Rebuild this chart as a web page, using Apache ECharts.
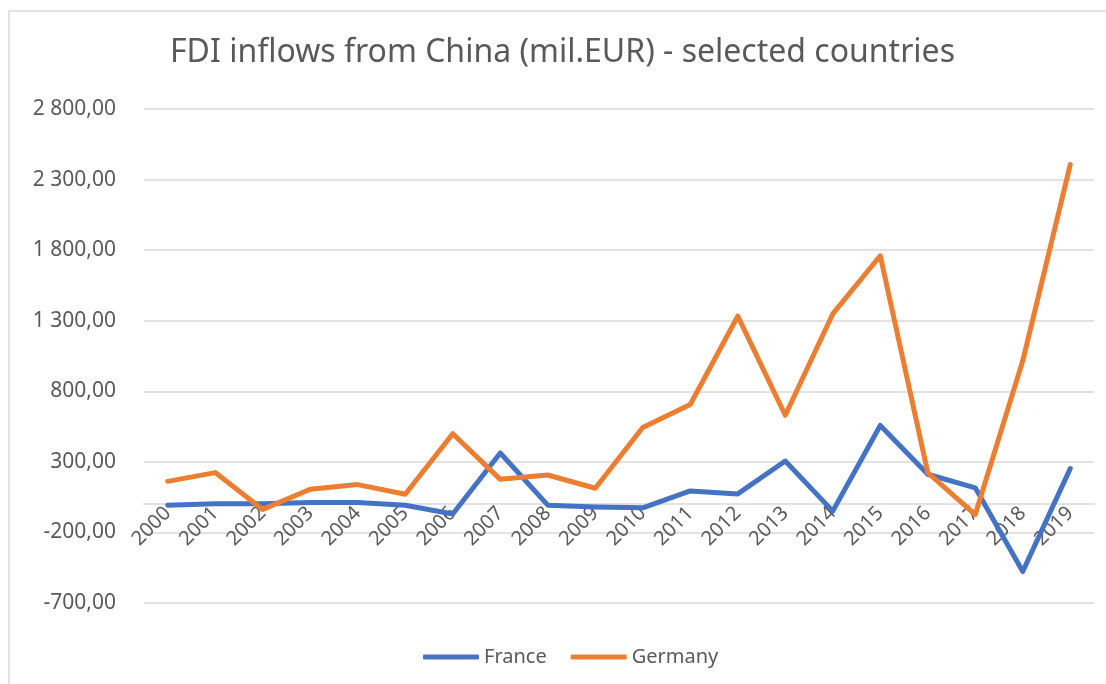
<!DOCTYPE html>
<html>
<head>
<meta charset="utf-8">
<script src="https://cdn.jsdelivr.net/npm/echarts@6/dist/echarts.min.js"></script>
<style>
html,body{margin:0;padding:0;background:#fff;}
#chart{width:1106px;height:684px;}
</style>
</head>
<body>
<div id="chart"></div>
<script>
const years = ['2000','2001','2002','2003','2004','2005','2006','2007','2008','2009','2010','2011','2012','2013','2014','2015','2016','2017','2018','2019'];
const france = [-7, 3, 3, 12, 12, -7, -70, 363, -7, -19, -26, 94, 73, 306, -49, 558, 212, 116, -477, 252];
const germany = [162, 224, -37, 106, 139, 71, 499, 176, 207, 113, 543, 706, 1332, 630, 1348, 1760, 224, -73, 1016, 2406];
const yTicks = { min: -700, max: 2800, interval: 500 };

const FONT = '"Noto Sans", "Open Sans", sans-serif';
function fmt(v) {
  const neg = v < 0;
  const a = Math.abs(v);
  const s = String(Math.round(a)).replace(/\B(?=(\d{3})+(?!\d))/g, ' ');
  return (neg ? '-' : '') + s + ',00';
}

const GRID_TOP = 109, GRID_BOTTOM = 81, H = 684;
const plotH = H - GRID_TOP - GRID_BOTTOM;
const zeroOffset = -plotH * (0 - yTicks.min) / (yTicks.max - yTicks.min);

const chart = echarts.init(document.getElementById('chart'));
chart.setOption({
  backgroundColor: '#ffffff',
  animation: false,
  title: {
    text: 'FDI inflows from China (mil.EUR) - selected countries',
    left: 170,
    top: 37,
    padding: 0,
    textStyle: { fontFamily: FONT, fontSize: 32, fontWeight: 'normal', color: '#595959' }
  },
  legend: {
    bottom: 12,
    left: 418,
    itemWidth: 56,
    itemHeight: 5,
    itemGap: 24,
    icon: 'roundRect',
    textStyle: { fontFamily: FONT, fontSize: 20, color: '#595959' },
    data: ['France', 'Germany']
  },
  graphic: [{
    type: 'polyline',
    shape: { points: [[9, 684], [9, 11], [1106, 11]] },
    style: { stroke: '#d9d9d9', lineWidth: 1.5, fill: null }
  }],
  grid: { left: 144, right: 12, top: GRID_TOP, bottom: GRID_BOTTOM },
  xAxis: {
    type: 'category',
    data: years,
    boundaryGap: true,
    position: 'bottom',
    offset: zeroOffset,
    axisLine: { onZero: false, lineStyle: { color: '#d9d9d9', width: 1.5 } },
    axisTick: { show: false },
    axisLabel: { rotate: 45, fontFamily: FONT, fontSize: 20, color: '#595959', margin: 6, interval: 0 }
  },
  yAxis: {
    type: 'value',
    min: yTicks.min,
    max: yTicks.max,
    interval: yTicks.interval,
    axisLine: { show: false },
    axisTick: { show: false },
    splitLine: { lineStyle: { color: '#d9d9d9', width: 1.5 } },
    axisLabel: { fontFamily: FONT, fontSize: 21, color: '#595959', margin: 28, formatter: fmt }
  },
  series: [
    {
      name: 'France', type: 'line', data: france, showSymbol: false, symbol: 'none',
      lineStyle: { color: '#4472C4', width: 5, cap: 'round', join: 'round' },
      itemStyle: { color: '#4472C4' }
    },
    {
      name: 'Germany', type: 'line', data: germany, showSymbol: false, symbol: 'none',
      lineStyle: { color: '#ED7D31', width: 5, cap: 'round', join: 'round' },
      itemStyle: { color: '#ED7D31' }
    }
  ]
});
</script>
</body>
</html>
